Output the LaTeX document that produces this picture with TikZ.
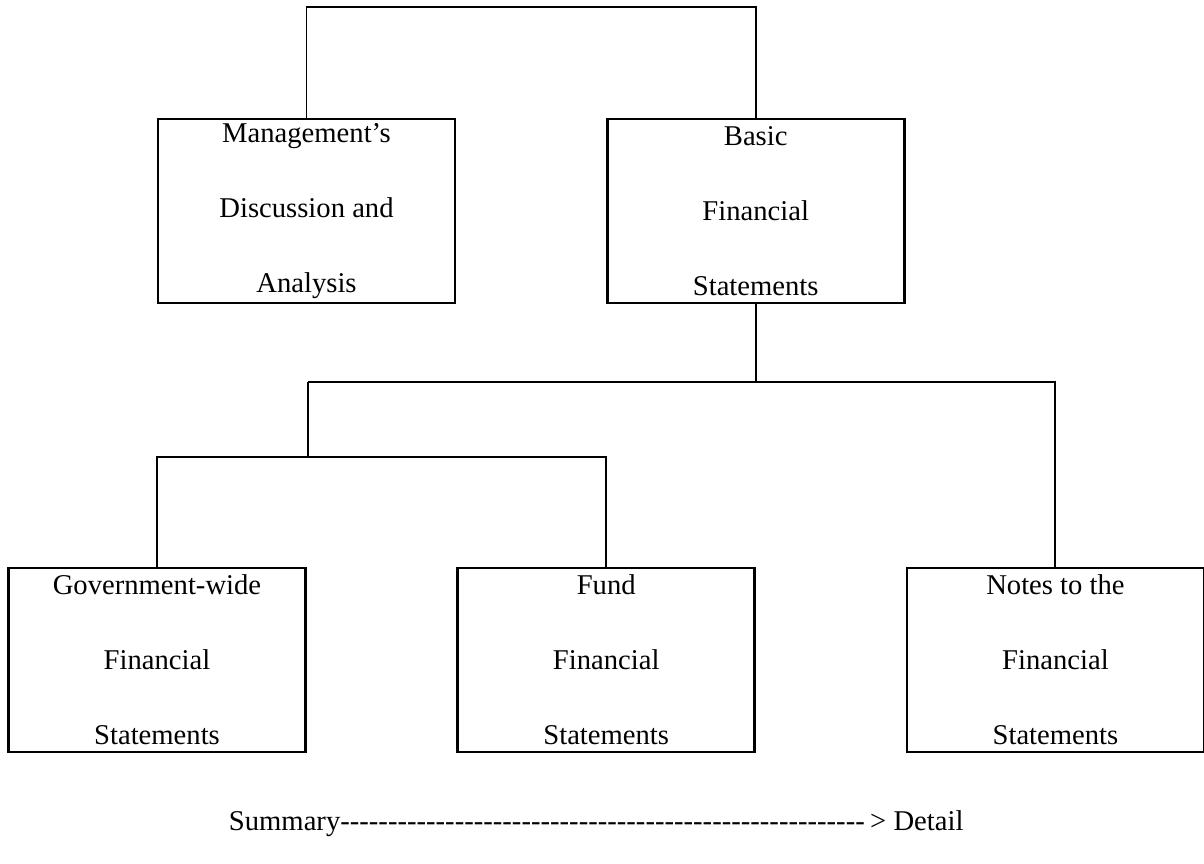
\documentclass[tikz,border=0pt]{standalone}
\usepackage{fontspec}
\setmainfont{Liberation Serif}
\usetikzlibrary{positioning}
\tikzset{
    orgchart/.style={x=0.02cm, y=-0.02cm, line width=1.1pt, node distance=2.99cm},
    fsbox/.style={draw, line width=1.6pt, minimum width=5.94cm, minimum height=3.68cm,
        inner sep=0pt, align=center, font=\fontsize{16.3pt}{42.7pt}\selectfont},
    scaletext/.style={anchor=base west, inner sep=0pt, font=\fontsize{16.3pt}{20pt}\selectfont},
}

\begin{document}
\begin{tikzpicture}[orgchart]
        \useasboundingbox (0,0) rectangle (1204,864);
        \node[fsbox]                 (mda) at (306.5,211) {Management's\\Discussion and\\Analysis};
        \node[fsbox, right=of mda]   (bfs) {Basic\\Financial\\Statements};
        \node[fsbox]                 (gfs) at (157,660) {Government-wide\\Financial\\Statements};
        \node[fsbox, right=of gfs]   (ffs) {Fund\\Financial\\Statements};
        \node[fsbox, right=of ffs]   (nfs) {Notes to the\\Financial\\Statements};
        \node[scaletext]             (sd)  at (228,830) {Summary\hbox to 10.6cm{\leaders\hbox{-}\hfill}> Detail};

        % junction points of the tree
        \coordinate (top) at (530,7);
        \coordinate (j1)  at (308,382);
        \coordinate (j2)  at (308,457);

        \draw (mda.north) |- (top) -| (bfs.north);
        \draw (bfs.south) |- (j1);
        \draw (j1) -| (nfs.north);
        \draw (j1) -- (j2);
        \draw (gfs.north) |- (j2);
        \draw (j2) -| (ffs.north);
    \end{tikzpicture}
\end{document}
